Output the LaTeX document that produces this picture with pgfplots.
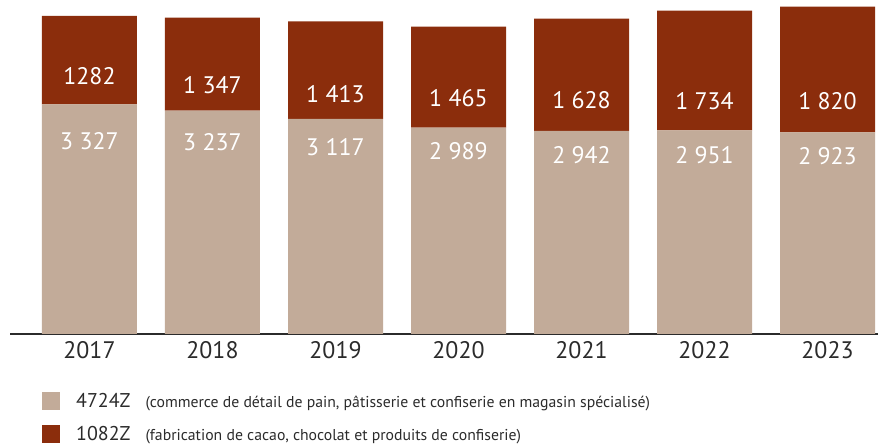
\documentclass[border=0pt]{standalone}
\usepackage{pgfplots}
\usepackage{pgfplotstable}
\pgfplotsset{compat=1.18}
\usepackage{fontspec}
\setmainfont{PT Sans}
\definecolor{tanc}{HTML}{C2AB99}
\definecolor{brun}{HTML}{8B2D0C}
\definecolor{txt}{HTML}{2B2B2B}
\pgfplotstableread[col sep=comma]{
x,y,label,shift
0,3327,3 327,78.2
1,3237,3 237,79.8
2,3117,3 117,79.5
3,2989,2 989,79.4
4,2942,2 942,77.5
5,2951,2 951,76.7
6,2923,2 923,77.2
}\tandata
\pgfplotstableread[col sep=comma]{
x,y,label,shift
0,1282,1282,-15.8
1,1347,1 347,-20.9
2,1413,1 413,-23.8
3,1465,1 465,-20.7
4,1628,1 628,-25.2
5,1734,1 734,-30.4
6,1820,1 820,-32
}\darkdata
\begin{document}
\begin{tikzpicture}
\useasboundingbox (0,0) rectangle (878bp,-447bp);
\begin{axis}[
 at={(10bp,0bp)}, anchor=north west,
 scale only axis,
 x=123bp, y=0.069bp,
 xmin=-0.6463, xmax=6.4106, ymin=0, ymax=4840.6,
 ybar stacked, bar width=95bp,
 axis y line=none, axis x line*=bottom,
 x axis line style={-, draw=txt, line width=1.3bp},
 xtick={0,1,2,3,4,5,6},
 xticklabels={2017,2018,2019,2020,2021,2022,2023},
 major tick length=0pt,
 xticklabel style={font=\fontsize{24}{24}\selectfont, text=txt, yshift=-4bp},
 point meta=explicit symbolic,
 legend style={at={(axis description cs:0.0369,-0.172)}, anchor=north west,
   draw=none, fill=none, inner sep=0pt, row sep=13bp, text=txt},
 legend cell align=left,
]
\addplot[fill=tanc, draw=none,
  legend image code/.code={\fill[tanc] (0bp,-9bp) rectangle (18bp,9bp);},
  visualization depends on={\thisrow{shift} \as \myshift},
  nodes near coords,
  every node near coord/.append style={font=\fontsize{24}{24}\selectfont, text=white, anchor=center, yshift={\myshift*1bp}}]
 table[x=x, y=y, meta=label] {\tandata};
\addlegendentry{\hspace*{14bp}{\fontsize{20}{20}\selectfont 4724Z}\hspace{15bp}{\fontsize{15.8}{16}\selectfont (commerce de détail de pain, pâtisserie et confiserie en magasin spécialisé)}}
\addplot[fill=brun, draw=none,
  legend image code/.code={\fill[brun] (0bp,-9bp) rectangle (18bp,9bp);},
  visualization depends on={\thisrow{shift} \as \myshift},
  nodes near coords,
  every node near coord/.append style={font=\fontsize{24}{24}\selectfont, text=white, anchor=center, yshift={\myshift*1bp}}]
 table[x=x, y=y, meta=label] {\darkdata};
\addlegendentry{\hspace*{14bp}{\fontsize{20}{20}\selectfont 1082Z}\hspace{15bp}{\fontsize{15.8}{16}\selectfont (fabrication de cacao, chocolat et produits de confiserie)}}
\end{axis}
\end{tikzpicture}
\end{document}
